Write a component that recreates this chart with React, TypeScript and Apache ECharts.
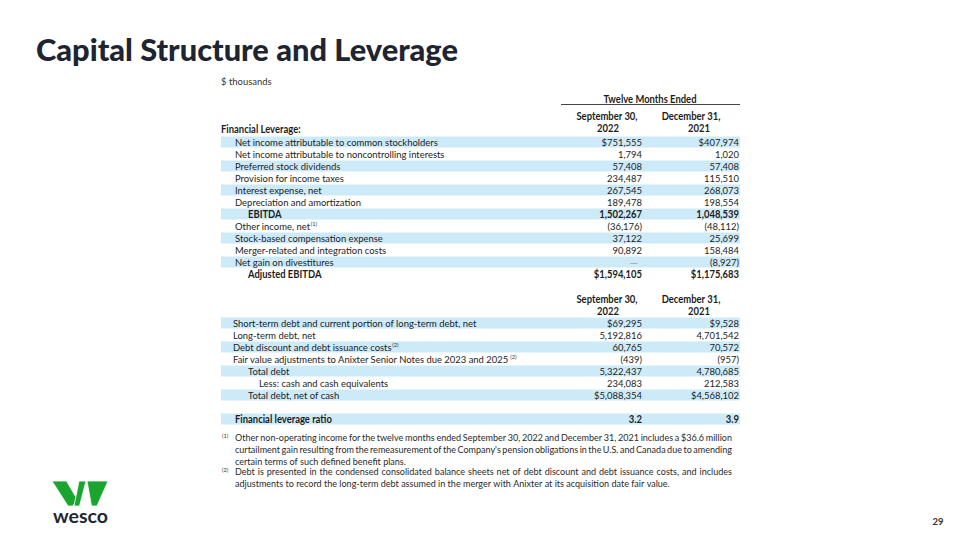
import React, { useEffect, useRef } from "react";
import * as echarts from "echarts";

// ---------- data ----------
const titleText = "Capital Structure and Leverage";
const unitText = "$ thousands";
const periodHeader = "Twelve Months Ended";
const colHeadLine1 = ["September 30,", "December 31,"];
const colHeadLine2 = ["2022", "2021"];
const sectionTitle = "Financial Leverage:";

const leverageLabels = [
  "Net income attributable to common stockholders",
  "Net income attributable to noncontrolling interests",
  "Preferred stock dividends",
  "Provision for income taxes",
  "Interest expense, net",
  "Depreciation and amortization",
  "EBITDA",
  "Other income, net",
  "Stock-based compensation expense",
  "Merger-related and integration costs",
  "Net gain on divestitures",
  "Adjusted EBITDA",
];
const leverageNotes = ["", "", "", "", "", "", "", "(1)", "", "", "", ""];
const leverageKinds = ["item", "item", "item", "item", "item", "item", "subtotal", "item", "item", "item", "item", "subtotal"];
const leverageDollar = [true, false, false, false, false, false, false, false, false, false, false, true];
const leverage2022: (number | null)[] = [751555, 1794, 57408, 234487, 267545, 189478, 1502267, -36176, 37122, 90892, null, 1594105];
const leverage2021: (number | null)[] = [407974, 1020, 57408, 115510, 268073, 198554, 1048539, -48112, 25699, 158484, -8927, 1175683];

const debtLabels = [
  "Short-term debt and current portion of long-term debt, net",
  "Long-term debt, net",
  "Debt discount and debt issuance costs",
  "Fair value adjustments to Anixter Senior Notes due 2023 and 2025",
  "Total debt",
  "Less: cash and cash equivalents",
  "Total debt, net of cash",
  "",
  "Financial leverage ratio",
];
const debtNotes = ["", "", "(2)", "(2)", "", "", "", "", ""];
const debtKinds = ["item2", "item2", "item2", "item2", "total", "less", "total", "blank", "ratio"];
const debtDollar = [true, false, false, false, false, false, true, false, false];
const debtDecimals = [0, 0, 0, 0, 0, 0, 0, 0, 1];
const debt2022: (number | null)[] = [69295, 5192816, 60765, -439, 5322437, 234083, 5088354, null, 3.2];
const debt2021: (number | null)[] = [9528, 4701542, 70572, -957, 4780685, 212583, 4568102, null, 3.9];

const footnoteMarks = ["(1)", "(2)"];
const footnoteLines = [
  ["Other non-operating income for the twelve months ended September 30, 2022 and December 31, 2021 includes a $36.6 million",
   "curtailment gain resulting from the remeasurement of the Company's pension obligations in the U.S. and Canada due to amending",
   "certain terms of such defined benefit plans."],
  ["Debt is presented in the condensed consolidated balance sheets net of debt discount and debt issuance costs, and includes",
   "adjustments to record the long-term debt assumed in the merger with Anixter at its acquisition date fair value."],
];
const brandName = "wesco";
const pageNumber = "29";

// ---------- helpers ----------
const FAM = "Lato, 'Noto Sans', sans-serif";
const TEXT = "#1d1d1d";
const SHADE = "#cdeaf8";

const mctx = document.createElement("canvas").getContext("2d")!;
function measure(text: string, size: number, weight: string | boolean = false, family = FAM) {
  const w = weight === true ? "bold " : weight ? `${weight} ` : "";
  mctx.font = `${w}${size}px ${family}`;
  return mctx.measureText(text).width;
}

function txt(x: number, y: number, text: string, size: number, o: any = {}) {
  const align = o.align || "left";
  const va = o.va || "middle";
  const el: any = {
    type: "text",
    x,
    y,
    silent: true,
    style: {
      text,
      fontSize: size,
      fontFamily: o.family || FAM,
      fontWeight: o.weight || (o.bold ? "bold" : "normal"),
      fill: o.color || TEXT,
      align,
      verticalAlign: va,
      textAlign: align,
      textVerticalAlign: va,
    },
  };
  if (o.scaleX) el.scaleX = o.scaleX;
  return el;
}

function fmt(v: number | null, dollar: boolean, dec = 0) {
  if (v === null) return "—";
  const s = Math.abs(v).toLocaleString("en-US", { minimumFractionDigits: dec, maximumFractionDigits: dec });
  const body = (dollar ? "$" : "") + s;
  return v < 0 ? `(${body})` : body;
}

function buildElements() {
  const els: any[] = [];
  const tableSize = 10.4;
  const ts = 203 / measure(leverageLabels[0], tableSize);
  const supSize = 6.2;
  const left = 221;
  const right = 740;
  const col1R = 642;
  const col2R = 739;
  const rowH = 12;

  // title
  const titleSize = 30;
  const titleScale = 422 / measure(titleText, titleSize, "900");
  els.push(txt(36, 49, titleText, titleSize, { weight: "900", color: "#1e2530", scaleX: titleScale }));
  els.push(txt(221, 81, unitText, tableSize, { color: "#333", scaleX: ts }));

  // header block 1
  els.push(txt(650, 99, periodHeader, tableSize, { bold: true, align: "center", scaleX: ts }));
  els.push({ type: "line", silent: true, shape: { x1: 561, y1: 104.5, x2: right, y2: 104.5 }, style: { stroke: "#444", lineWidth: 1 } });
  const headCenters1 = [607, 691];
  const headCenters2 = [608, 699];
  const drawHead = (y: number) => {
    colHeadLine1.forEach((t, i) => els.push(txt(headCenters1[i], y, t, tableSize, { bold: true, align: "center", scaleX: ts })));
    colHeadLine2.forEach((t, i) => els.push(txt(headCenters2[i], y + 12, t, tableSize, { bold: true, align: "center", scaleX: ts })));
  };
  drawHead(116);
  els.push(txt(221, 129, sectionTitle, tableSize, { bold: true, scaleX: ts }));

  const labelX: Record<string, number> = { item: 235, subtotal: 248, item2: 233, total: 248, less: 259, ratio: 235 };
  const boldKinds: Record<string, boolean> = { subtotal: true, ratio: true };

  const drawRows = (
    y0: number,
    labels: string[],
    notes: string[],
    kinds: string[],
    dollar: boolean[],
    a: (number | null)[],
    b: (number | null)[],
    dec: number[] | null
  ) => {
    labels.forEach((lab, i) => {
      const y = y0 + i * rowH;
      const kind = kinds[i];
      if (kind === "blank") return;
      if (i % 2 === 0) {
        els.push({ type: "rect", silent: true, z: -1, shape: { x: left, y: y - 5.5, width: right - left, height: 11 }, style: { fill: SHADE } });
      }
      const bold = !!boldKinds[kind];
      const x = labelX[kind];
      els.push(txt(x, y, lab, tableSize, { bold, scaleX: ts }));
      if (notes[i]) {
        const w = measure(lab, tableSize, bold) * ts;
        els.push(txt(x + w + 0.5, y - 3, notes[i], supSize, { color: "#333", scaleX: ts }));
      }
      const d = dec ? dec[i] : 0;
      const va = a[i];
      if (va === null) {
        els.push(txt(col1R - 4, y, "—", tableSize, { align: "right", color: "#9a9a9a" }));
      } else {
        els.push(txt(col1R, y, fmt(va, dollar[i], d), tableSize, { align: "right", bold, scaleX: ts }));
      }
      const vb = b[i];
      if (vb === null) {
        els.push(txt(col2R - 4, y, "—", tableSize, { align: "right", color: "#9a9a9a" }));
      } else {
        els.push(txt(col2R, y, fmt(vb, dollar[i], d), tableSize, { align: "right", bold, scaleX: ts }));
      }
    });
  };

  drawRows(142, leverageLabels, leverageNotes, leverageKinds, leverageDollar, leverage2022, leverage2021, null);
  drawHead(299);
  drawRows(323, debtLabels, debtNotes, debtKinds, debtDollar, debt2022, debt2021, debtDecimals);

  // footnotes (word-by-word layout)
  const fnSize = 8.8;
  const fnX = 235;
  const fnR = 732;
  const normGap = 2.3;
  const minGap = 1.45;
  const wordSum = (l: string) => l.split(" ").reduce((s, w) => s + measure(w, fnSize), 0);
  const lastL5 = footnoteLines[1][1];
  let fs = (485 - normGap * (lastL5.split(" ").length - 1)) / wordSum(lastL5);
  footnoteLines.forEach((lines) =>
    lines.slice(0, -1).forEach((l) => {
      const n = l.split(" ").length;
      fs = Math.min(fs, (fnR - fnX - minGap * (n - 1)) / wordSum(l));
    })
  );
  const fnY0 = [438, 472];
  const fnStep = 11.6;
  footnoteLines.forEach((lines, k) => {
    els.push(txt(222, fnY0[k] - 2.5, footnoteMarks[k], 5.6, { color: "#333" }));
    lines.forEach((line, j) => {
      const y = fnY0[k] + j * fnStep;
      const last = j === lines.length - 1;
      const words = line.split(" ");
      const widths = words.map((w) => measure(w, fnSize) * fs);
      const total = widths.reduce((s, w) => s + w, 0);
      const gap = last ? normGap : (fnR - fnX - total) / (words.length - 1);
      let cx = fnX;
      words.forEach((w, m) => {
        els.push(txt(cx, y, w, fnSize, { color: "#2a2a2a", scaleX: fs }));
        cx += widths[m] + gap;
      });
    });
  });

  // logo
  const green = "#1aa531";
  const logoPolys = [
    [[52, 481], [66.5, 481], [77, 499], [73, 506], [68, 506]],
    [[74, 506], [79.5, 506], [86, 481], [79, 481]],
    [[87, 481], [108, 481], [97, 506], [91.5, 506]],
  ];
  logoPolys.forEach((pts) =>
    els.push({ type: "polygon", silent: true, shape: { points: pts }, style: { fill: green, stroke: "#fff", lineWidth: 0.8 } })
  );
  const brandSize = 18;
  const brandScale = 55 / measure(brandName, brandSize, true);
  els.push(txt(53, 516, brandName, brandSize, { bold: true, color: "#1d2735", scaleX: brandScale }));

  els.push(txt(938, 521, pageNumber, 9.5, { bold: true, align: "center", color: "#333" }));
  return els;
}

export default function App() {
  const ref = useRef<HTMLDivElement>(null);
  useEffect(() => {
    document.body.style.margin = "0";
    const chart = echarts.init(ref.current!, null, { renderer: "svg", width: 960, height: 540 });
    chart.setOption({
      animation: false,
      backgroundColor: "#ffffff",
      graphic: { elements: buildElements() },
    });
    return () => chart.dispose();
  }, []);
  return <div ref={ref} style={{ width: 960, height: 540 }} />;
}
